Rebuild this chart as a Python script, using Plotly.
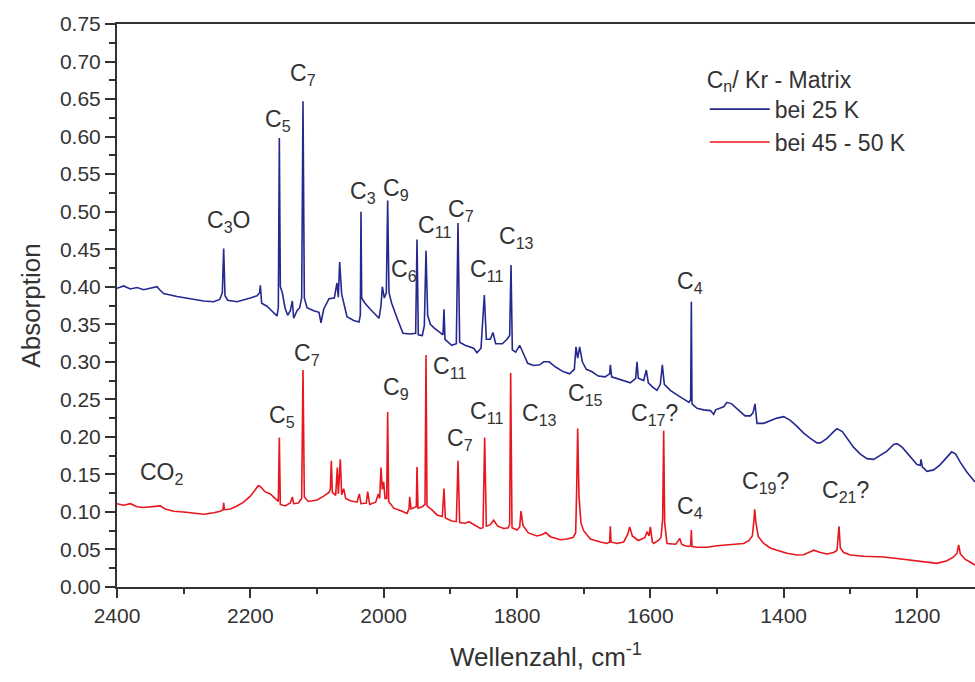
import plotly.graph_objects as go

# IR absorption spectrum of C_n clusters in a Kr matrix, two annealing temperatures
# (wavenumber in cm^-1, absorbance)

wn_25k = [
    2400, 2390, 2380, 2370, 2360, 2350, 2340, 2336, 2330, 2310, 2290, 2270, 2255,
    2246, 2242, 2240, 2238, 2234, 2220, 2210, 2200, 2190, 2186, 2185, 2183, 2175,
    2165, 2160, 2158, 2156.5, 2155, 2152, 2148, 2144, 2140, 2137, 2135, 2130, 2126,
    2123, 2121, 2119, 2115, 2105, 2097, 2094, 2090, 2082, 2074, 2070, 2068, 2066,
    2063, 2058, 2055, 2045, 2037, 2035, 2034, 2033, 2028, 2020, 2012, 2007, 2004,
    2002, 1999, 1996, 1994, 1992, 1988, 1983, 1979, 1971, 1960, 1952, 1950, 1948,
    1942, 1939, 1936.5, 1934, 1930, 1924, 1916, 1911, 1909.5, 1908, 1898, 1891,
    1888.5, 1886, 1878, 1865, 1860, 1854, 1849, 1846, 1840, 1836, 1832, 1822, 1815,
    1811, 1809, 1807, 1802, 1796, 1790, 1784, 1775, 1766, 1760, 1752, 1742, 1731,
    1721, 1714, 1711.5, 1709, 1706, 1702, 1696, 1688, 1678, 1668, 1661, 1660, 1658,
    1648, 1638, 1630, 1622, 1620, 1618, 1610, 1606, 1603, 1596, 1590, 1585, 1582,
    1579, 1570, 1560, 1550, 1542, 1539.5, 1538.5, 1537.5, 1530, 1520, 1510, 1505,
    1502, 1490, 1485, 1478, 1468, 1458, 1450, 1446, 1443, 1440, 1430, 1420, 1410,
    1400, 1390, 1380, 1370, 1360, 1350, 1345, 1335, 1325, 1320, 1312, 1305, 1295,
    1285, 1275, 1265, 1255, 1245, 1235, 1230, 1222, 1212, 1200, 1195, 1194, 1192,
    1185, 1175, 1165, 1155, 1148, 1142, 1135, 1125, 1113,
]
abs_25k = [
    0.398, 0.401, 0.397, 0.399, 0.396, 0.398, 0.400, 0.396, 0.391, 0.387, 0.384, 0.381, 0.380,
    0.383, 0.392, 0.451, 0.388, 0.382, 0.380, 0.382, 0.385, 0.388, 0.392, 0.402, 0.378, 0.374,
    0.366, 0.361, 0.372, 0.598, 0.400, 0.392, 0.372, 0.362, 0.368, 0.381, 0.358, 0.368, 0.372,
    0.385, 0.647, 0.385, 0.372, 0.368, 0.366, 0.352, 0.370, 0.384, 0.385, 0.405, 0.386, 0.433,
    0.390, 0.370, 0.360, 0.355, 0.353, 0.362, 0.500, 0.385, 0.378, 0.370, 0.362, 0.358, 0.375,
    0.400, 0.385, 0.392, 0.515, 0.392, 0.378, 0.365, 0.356, 0.338, 0.337, 0.338, 0.463, 0.336,
    0.335, 0.348, 0.448, 0.362, 0.350, 0.345, 0.339, 0.336, 0.370, 0.330, 0.322, 0.324,
    0.485, 0.326, 0.322, 0.318, 0.312, 0.318, 0.389, 0.330, 0.330, 0.339, 0.324, 0.324, 0.330,
    0.335, 0.429, 0.316, 0.313, 0.322, 0.310, 0.298, 0.295, 0.296, 0.300, 0.300, 0.293, 0.287,
    0.284, 0.290, 0.320, 0.305, 0.320, 0.300, 0.290, 0.287, 0.281, 0.280, 0.284, 0.296, 0.280,
    0.277, 0.275, 0.272, 0.278, 0.300, 0.278, 0.275, 0.289, 0.272, 0.266, 0.262, 0.270, 0.296,
    0.270, 0.262, 0.256, 0.250, 0.246, 0.250, 0.380, 0.244, 0.238, 0.236, 0.235, 0.230,
    0.236, 0.240, 0.246, 0.244, 0.236, 0.228, 0.228, 0.232, 0.244, 0.218, 0.218, 0.222, 0.225,
    0.227, 0.222, 0.214, 0.205, 0.198, 0.192, 0.192, 0.198, 0.207, 0.211, 0.207, 0.199, 0.186,
    0.177, 0.171, 0.170, 0.175, 0.181, 0.190, 0.191, 0.186, 0.175, 0.163, 0.162, 0.170, 0.160,
    0.154, 0.156, 0.163, 0.173, 0.180, 0.177, 0.166, 0.153, 0.140,
]

wn_50k = [
    2400, 2390, 2380, 2370, 2360, 2345, 2335, 2328, 2315, 2300, 2285, 2270, 2255,
    2245, 2241, 2240, 2239, 2230, 2220, 2210, 2200, 2193, 2188, 2184, 2178, 2170,
    2163, 2158, 2156.5, 2155, 2148, 2140, 2137, 2135, 2128, 2123, 2121, 2119, 2113,
    2100, 2090, 2082, 2080, 2078.5, 2077, 2072, 2069.5, 2068, 2065, 2063, 2060, 2057,
    2050, 2040, 2036.5, 2034, 2026, 2024, 2021, 2012, 2008, 2006, 2004, 2002, 2000,
    1998, 1995.5, 1994, 1992.5, 1985, 1975, 1965, 1962, 1961, 1959, 1955, 1951, 1950,
    1948.5, 1942, 1938, 1936.5, 1935, 1928, 1920, 1912, 1909.5, 1907.5, 1898, 1891,
    1888.5, 1886, 1878, 1872, 1864, 1855, 1851, 1848.5, 1846, 1840, 1835, 1829, 1820,
    1813, 1811, 1809.5, 1807.5, 1800, 1796, 1794, 1791, 1783, 1770, 1762, 1757, 1750,
    1735, 1725, 1716, 1712, 1710.5, 1709, 1707, 1704, 1700, 1690, 1675, 1665, 1661,
    1660, 1659, 1650, 1640, 1634, 1631, 1627, 1618, 1608, 1605, 1602, 1600, 1597,
    1595, 1588, 1584, 1581.5, 1580, 1578.5, 1575, 1568, 1562, 1557, 1556, 1553, 1548,
    1542, 1539.5, 1538.5, 1537.5, 1530, 1515, 1500, 1485, 1470, 1460, 1452, 1447,
    1445, 1443.5, 1441.5, 1438, 1430, 1420, 1410, 1395, 1380, 1370, 1360, 1355, 1345,
    1335, 1325, 1320, 1317, 1315, 1310, 1300, 1280, 1250, 1230, 1210, 1190, 1170,
    1155, 1145, 1140, 1137.5, 1135, 1128, 1120, 1113,
]
abs_50k = [
    0.111, 0.109, 0.111, 0.107, 0.106, 0.107, 0.108, 0.104, 0.101, 0.100, 0.098, 0.097, 0.099,
    0.101, 0.103, 0.112, 0.103, 0.104, 0.108, 0.113, 0.121, 0.129, 0.135, 0.133, 0.127, 0.124,
    0.118, 0.114, 0.199, 0.110, 0.108, 0.112, 0.120, 0.111, 0.112, 0.118, 0.289, 0.120, 0.114,
    0.116, 0.121, 0.126, 0.130, 0.168, 0.126, 0.122, 0.159, 0.124, 0.170, 0.123, 0.131, 0.118,
    0.115, 0.113, 0.124, 0.111, 0.112, 0.127, 0.110, 0.113, 0.124, 0.118, 0.159, 0.130, 0.140,
    0.118, 0.118, 0.233, 0.114, 0.105, 0.102, 0.098, 0.104, 0.120, 0.104, 0.105, 0.107, 0.160,
    0.105, 0.107, 0.110, 0.309, 0.108, 0.103, 0.096, 0.094, 0.131, 0.092, 0.088, 0.087,
    0.168, 0.086, 0.085, 0.087, 0.083, 0.078, 0.079, 0.199, 0.081, 0.083, 0.089, 0.081, 0.078,
    0.079, 0.084, 0.285, 0.079, 0.076, 0.080, 0.101, 0.082, 0.072, 0.068, 0.070, 0.0725, 0.067,
    0.063, 0.064, 0.066, 0.072, 0.130, 0.211, 0.120, 0.085, 0.075, 0.064, 0.060, 0.058, 0.060,
    0.081, 0.060, 0.058, 0.060, 0.070, 0.080, 0.068, 0.062, 0.066, 0.0737, 0.068, 0.080, 0.060,
    0.058, 0.062, 0.066, 0.090, 0.208, 0.085, 0.058, 0.058, 0.057, 0.063, 0.065, 0.057, 0.055,
    0.054, 0.055, 0.076, 0.054, 0.053, 0.053, 0.055, 0.056, 0.057, 0.058, 0.062, 0.068,
    0.085, 0.1035, 0.085, 0.067, 0.058, 0.052, 0.049, 0.045, 0.0426, 0.043, 0.047, 0.049, 0.046,
    0.044, 0.046, 0.049, 0.081, 0.052, 0.046, 0.0426, 0.041, 0.040, 0.038, 0.036, 0.033, 0.0315,
    0.035, 0.040, 0.045, 0.056, 0.044, 0.037, 0.033, 0.0293,
]

# Band assignments: text, wavenumber, absorbance of the label centre
band_labels = [
    "C<sub>3</sub>O", "C<sub>5</sub>", "C<sub>7</sub>", "C<sub>3</sub>", "C<sub>9</sub>",
    "C<sub>11</sub>", "C<sub>6</sub>", "C<sub>7</sub>", "C<sub>11</sub>", "C<sub>13</sub>",
    "C<sub>4</sub>",
    "CO<sub>2</sub>", "C<sub>5</sub>", "C<sub>7</sub>", "C<sub>9</sub>", "C<sub>11</sub>",
    "C<sub>7</sub>", "C<sub>11</sub>", "C<sub>13</sub>", "C<sub>15</sub>", "C<sub>17</sub>?",
    "C<sub>4</sub>", "C<sub>19</sub>?", "C<sub>21</sub>?",
]
label_wn = [
    2233, 2158, 2121, 2031, 1982,
    1924, 1969, 1884, 1846, 1801,
    1540,
    2333, 2153, 2115, 1982, 1901,
    1886, 1846, 1766, 1698, 1594,
    1540, 1427, 1307,
]
label_abs = [
    0.487, 0.622, 0.683, 0.526, 0.530,
    0.480, 0.421, 0.502, 0.421, 0.465,
    0.406,
    0.151, 0.227, 0.310, 0.265, 0.292,
    0.196, 0.232, 0.230, 0.257, 0.230,
    0.106, 0.139, 0.127,
]

ink = "#333333"
font_family = "Liberation Sans, Arial, sans-serif"

fig = go.Figure()
fig.add_trace(go.Scatter(
    x=wn_25k, y=abs_25k, mode="lines", name="bei 25 K",
    line=dict(color="#25288f", width=1.6),
))
fig.add_trace(go.Scatter(
    x=wn_50k, y=abs_50k, mode="lines", name="bei 45 - 50 K",
    line=dict(color="#e8161e", width=1.6),
))

for txt, xv, yv in zip(band_labels, label_wn, label_abs):
    fig.add_annotation(
        x=xv, y=yv, xref="x", yref="y", text=txt, showarrow=False,
        font=dict(size=23, color=ink, family=font_family),
    )

fig.update_layout(
    width=975, height=682,
    margin=dict(l=117, r=0, t=24, b=95),
    paper_bgcolor="white", plot_bgcolor="white",
    font=dict(family=font_family, color=ink, size=20),
    showlegend=True,
    legend=dict(
        x=0.685, y=0.94, xanchor="left", yanchor="top",
        bgcolor="rgba(0,0,0,0)",
        font=dict(size=23, color=ink),
        title=dict(text="C<sub>n</sub>/ Kr - Matrix", font=dict(size=23, color=ink)),
        tracegroupgap=0, itemwidth=60,
    ),
    xaxis=dict(
        range=[2400, 1113], dtick=200, tick0=2400,
        showgrid=False, zeroline=False,
        showline=True, linecolor=ink, linewidth=2, mirror=True,
        ticks="outside", ticklen=9, tickwidth=1.5, tickcolor=ink,
        minor=dict(dtick=100, ticks="outside", ticklen=5, tickwidth=1.5, tickcolor=ink),
        tickfont=dict(size=21, color=ink),
        title=dict(text="Wellenzahl, cm<sup>-1</sup>", font=dict(size=26, color=ink), standoff=22),
    ),
    yaxis=dict(
        range=[0, 0.75], dtick=0.05, tick0=0, tickformat=".2f",
        showgrid=False, zeroline=False,
        showline=True, linecolor=ink, linewidth=2,
        ticks="outside", ticklen=10, tickwidth=1.5, tickcolor=ink,
        minor=dict(dtick=0.025, ticks="outside", ticklen=6, tickwidth=1.5, tickcolor=ink),
        tickfont=dict(size=21, color=ink),
        title=dict(text="Absorption", font=dict(size=26, color=ink), standoff=12),
    ),
)

fig.write_html("out.html")
